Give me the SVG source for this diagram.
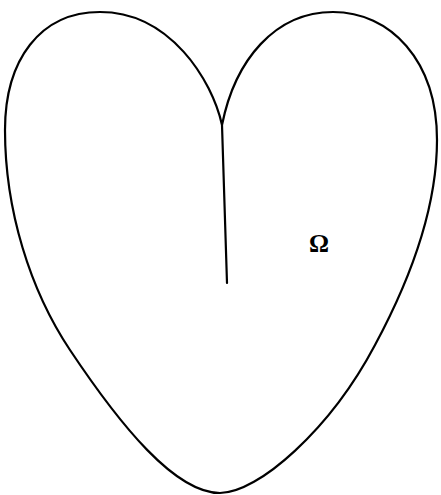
<svg xmlns="http://www.w3.org/2000/svg" width="441" height="495" viewBox="0 0 441 495">
<style>
.ln{fill:none;stroke:#000;stroke-width:2.2;stroke-linejoin:round;stroke-linecap:round}
.lb{font-family:"Liberation Serif",serif;font-size:25px;font-weight:bold;fill:#000}
</style>
<rect width="441" height="495" fill="#fff"/>
<g id="domain">
<path class="ln" d="M222,125 C212,80 170,12 100,12 C40,12 5,60 5,130 C5,210 30,290 70,350 C120,425 175,493 220,493 C258,493 330,430 375,345 C410,280 437,210 437,140 C437,60 390,12 333,12 C275,12 235,60 222,125 Z"/>
<path class="ln" d="M222,125 L227,283"/>
</g>
<g id="label">
<text class="lb" x="319" y="252" text-anchor="middle">Ω</text>
</g>
</svg>
